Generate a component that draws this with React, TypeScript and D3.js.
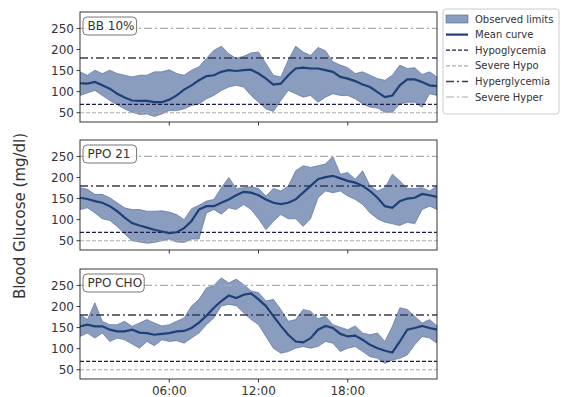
import React from "react";
import * as d3 from "d3";

// half-hour grid, 00:00 .. 24:00
const hours = d3.range(0, 24.01, 0.5);

const panelNames = ["BB 10%", "PPO 21", "PPO CHO"];

const bbMean = [120, 119, 123, 115, 107, 95, 86, 79, 78, 78, 75, 75, 81, 91, 105, 115, 127, 137, 139, 147, 151, 149, 151, 152, 143, 131, 117, 119, 139, 155, 157, 155, 155, 151, 147, 135, 131, 125, 117, 111, 99, 87, 91, 115, 129, 129, 123, 115, 113];
const bbUpper = [147, 139, 151, 143, 151, 143, 139, 135, 139, 139, 147, 147, 152, 143, 139, 151, 159, 179, 198, 208, 190, 179, 184, 192, 194, 167, 139, 135, 175, 208, 194, 186, 205, 197, 171, 163, 157, 143, 147, 139, 131, 127, 139, 163, 155, 157, 141, 147, 135];
const bbLower = [91, 97, 103, 91, 79, 69, 59, 51, 46, 47, 41, 47, 55, 55, 59, 67, 71, 83, 91, 103, 111, 115, 111, 91, 75, 59, 53, 79, 103, 95, 87, 91, 75, 87, 95, 91, 91, 83, 71, 63, 61, 51, 51, 71, 75, 75, 63, 95, 91];

const ppoMean = [152, 149, 144, 140, 132, 120, 105, 92, 86, 81, 76, 72, 68, 70, 80, 97, 124, 132, 132, 140, 148, 158, 166, 164, 158, 148, 140, 137, 140, 148, 164, 180, 196, 201, 204, 198, 192, 188, 180, 168, 152, 132, 128, 144, 150, 152, 161, 158, 154];
const ppoUpper = [176, 172, 160, 160, 152, 140, 128, 124, 124, 120, 120, 121, 118, 112, 100, 126, 134, 144, 148, 176, 200, 174, 176, 178, 174, 156, 174, 168, 180, 216, 228, 224, 228, 232, 250, 208, 212, 196, 216, 180, 168, 176, 208, 192, 174, 174, 176, 168, 180];
const ppoLower = [124, 128, 116, 102, 98, 84, 66, 50, 47, 44, 46, 50, 54, 47, 46, 54, 54, 116, 124, 113, 128, 124, 136, 124, 102, 76, 96, 112, 102, 102, 84, 102, 152, 168, 164, 168, 156, 148, 136, 116, 102, 94, 90, 86, 94, 90, 124, 132, 124];

const choMean = [153, 157, 153, 153, 145, 141, 141, 145, 138, 137, 133, 135, 137, 141, 142, 149, 162, 178, 197, 213, 226, 220, 228, 231, 217, 201, 177, 154, 133, 117, 115, 125, 145, 154, 149, 135, 129, 131, 121, 109, 101, 95, 91, 117, 145, 149, 154, 149, 145];
const choUpper = [181, 169, 209, 165, 157, 157, 165, 153, 161, 169, 161, 154, 157, 165, 173, 201, 217, 244, 250, 268, 256, 265, 252, 237, 233, 213, 217, 193, 165, 169, 193, 189, 171, 177, 157, 151, 145, 154, 137, 133, 137, 117, 153, 197, 193, 177, 161, 169, 154];
const choLower = [129, 137, 125, 137, 117, 125, 121, 111, 101, 117, 107, 121, 117, 119, 113, 125, 137, 157, 173, 201, 205, 202, 185, 169, 157, 129, 101, 89, 93, 101, 105, 101, 105, 117, 113, 93, 101, 105, 93, 81, 77, 65, 73, 77, 85, 109, 129, 125, 113];

const meanSeries = [bbMean, ppoMean, choMean];
const upperSeries = [bbUpper, ppoUpper, choUpper];
const lowerSeries = [bbLower, ppoLower, choLower];

const yTicks = [50, 100, 150, 200, 250];
const xTicks = [6, 12, 18];
const xTickLabels = ["06:00", "12:00", "18:00"];

const thresholdNames = ["Hypoglycemia", "Severe Hypo", "Hyperglycemia", "Severe Hyper"];
const thresholdValues = [70, 50, 180, 250];

const BAND = "#5a73a3";
const MEAN = "#1f3f78";
const thresholdStyles = [
  { color: "#1c1c4c", dash: "4,2", width: 1.3 },
  { color: "#aaaaaa", dash: "4,2", width: 1.2 },
  { color: "#3a3a58", dash: "8,3,2,3", width: 1.5 },
  { color: "#aaaaaa", dash: "8,3,2,3", width: 1.2 },
];

const W = 561;
const H = 397;
const left = 80;
const right = 437;
const panelTops = [12, 140, 269];
const panelH = 110;

export default function App() {
  const x = d3.scaleLinear().domain([0, 24]).range([left, right]);

  return (
    <svg
      width={W}
      height={H}
      style={{ position: "absolute", left: 0, top: 0, background: "#fff" }}
      fontFamily="DejaVu Sans"
    >
      {panelNames.map((name, p) => {
        const top = panelTops[p];
        const y = d3.scaleLinear().domain([28, 289]).range([top + panelH, top]);
        const area = d3
          .area<number>()
          .x((_, i) => x(hours[i]))
          .y0((_, i) => y(lowerSeries[p][i]))
          .y1((d) => y(d));
        const line = d3
          .line<number>()
          .x((_, i) => x(hours[i]))
          .y((d) => y(d));
        return (
          <g key={name}>
            <defs>
              <clipPath id={`clip${p}`}>
                <rect x={left} y={top} width={right - left} height={panelH} />
              </clipPath>
            </defs>
            <g clipPath={`url(#clip${p})`}>
              <path
                d={area(upperSeries[p]) || ""}
                fill={BAND}
                fillOpacity={0.7}
                stroke="#4a6598"
                strokeWidth={0.6}
              />
              {thresholdValues.map((v, k) => (
                <line
                  key={k}
                  x1={left}
                  x2={right}
                  y1={y(v)}
                  y2={y(v)}
                  stroke={thresholdStyles[k].color}
                  strokeWidth={thresholdStyles[k].width}
                  strokeDasharray={thresholdStyles[k].dash}
                />
              ))}
              <path d={line(meanSeries[p]) || ""} fill="none" stroke={MEAN} strokeWidth={2.2} />
            </g>
            <rect
              x={left}
              y={top}
              width={right - left}
              height={panelH}
              fill="none"
              stroke="#222"
              strokeWidth={0.9}
            />
            {yTicks.map((t) => (
              <g key={t}>
                <line x1={left - 3.5} x2={left} y1={y(t)} y2={y(t)} stroke="#222" strokeWidth={0.9} />
                <text x={left - 6} y={y(t)} dy="0.35em" textAnchor="end" fontSize={12} fill="#333">
                  {t}
                </text>
              </g>
            ))}
            {xTicks.map((t, k) => (
              <g key={t}>
                <line
                  x1={x(t)}
                  x2={x(t)}
                  y1={top + panelH}
                  y2={top + panelH + 3.5}
                  stroke="#222"
                  strokeWidth={0.9}
                />
                {p === 2 && (
                  <text x={x(t)} y={top + panelH + 16} textAnchor="middle" fontSize={12} fill="#333">
                    {xTickLabels[k]}
                  </text>
                )}
              </g>
            ))}
            <rect
              x={left + 3}
              y={top + 5}
              width={name.length * 7.6 + 8}
              height={18}
              rx={4}
              fill="#fff"
              fillOpacity={0.85}
              stroke="#777"
              strokeWidth={1}
            />
            <text x={left + 7.5} y={top + 14} dy="0.35em" fontSize={12} fill="#333">
              {name}
            </text>
          </g>
        );
      })}

      <text
        transform={`translate(25,${216}) rotate(-90)`}
        textAnchor="middle"
        fontSize={15}
        fill="#333"
      >
        Blood Glucose (mg/dl)
      </text>

      <g>
        <rect x={443} y={9} width={116} height={105} rx={3} fill="#fff" stroke="#ccc" strokeWidth={1} />
        {["Observed limits", "Mean curve", ...thresholdNames].map((label, i) => {
          const cy = 19 + i * 15.6;
          return (
            <g key={label}>
              {i === 0 && (
                <rect x={446} y={cy - 4} width={22} height={8} fill={BAND} fillOpacity={0.7} stroke="#4a6598" strokeWidth={0.6} />
              )}
              {i === 1 && <line x1={446} x2={468} y1={cy} y2={cy} stroke={MEAN} strokeWidth={2.2} />}
              {i > 1 && (
                <line
                  x1={446}
                  x2={468}
                  y1={cy}
                  y2={cy}
                  stroke={thresholdStyles[i - 2].color}
                  strokeWidth={thresholdStyles[i - 2].width}
                  strokeDasharray={thresholdStyles[i - 2].dash}
                />
              )}
              <text x={475} y={cy} dy="0.35em" fontSize={10} fill="#333">
                {label}
              </text>
            </g>
          );
        })}
      </g>
    </svg>
  );
}
